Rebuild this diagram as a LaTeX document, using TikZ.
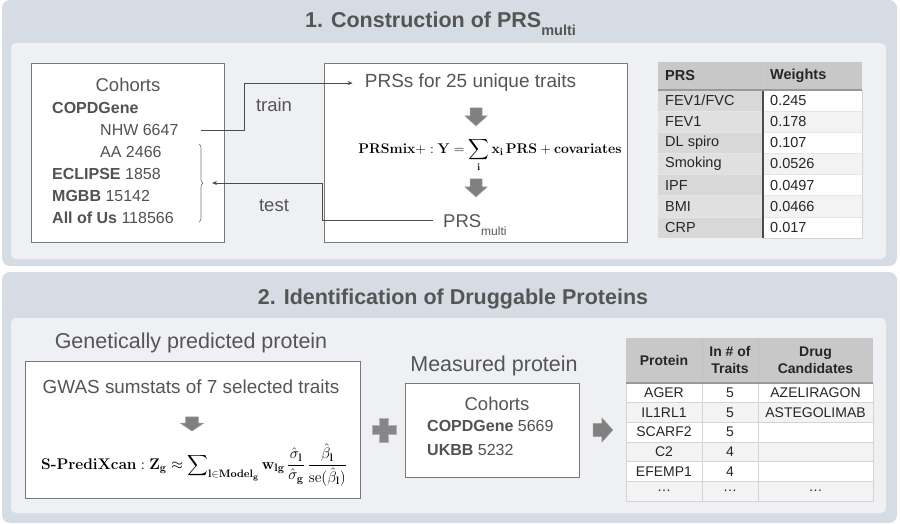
\RequirePackage{fix-cm}
\documentclass[tikz,border=0pt]{standalone}
\usepackage[no-math]{fontspec}
\setmainfont{Liberation Sans}
\usepackage{amsmath}
\usetikzlibrary{arrows.meta, calc, decorations.pathreplacing}

\definecolor{panelout}{RGB}{214,220,228}
\definecolor{panelin}{RGB}{239,240,244}
\definecolor{txtgray}{RGB}{85,85,85}
\definecolor{headgray}{RGB}{200,200,200}
\definecolor{colgray}{RGB}{216,216,216}
\definecolor{colgraylt}{RGB}{224,224,224}
\definecolor{rowgray}{RGB}{243,243,243}
\definecolor{gridgray}{RGB}{212,212,212}
\definecolor{arrgray}{RGB}{128,128,128}
\definecolor{linegray}{RGB}{120,120,120}

\newcommand\fs[1]{\fontsize{#1}{\fpeval{1.2*#1}}\selectfont}

\begin{document}
\begin{tikzpicture}[x=1pt, y=-1pt,
  box/.style={draw=linegray, fill=white, line width=0.8pt},
  conn/.style={draw=black!70, line width=0.8pt},
  tip/.style={-{Stealth[length=5pt, width=4pt]}},
  lbl/.style={inner sep=0pt, text=txtgray},
  cell/.style={inner sep=0pt, font=\fs{14.5}, text=black!85},
  hcell/.style={cell, font=\bfseries\fs{14.5}, align=center},
  blockdown/.pic={\draw[arrgray!75, fill=arrgray, line width=0.5pt]
    (-6,-9) -- (6,-9) -- (6,-1) -- (11,-1) -- (0,9) -- (-11,-1) -- (-6,-1) -- cycle;},
  plussign/.pic={\draw[arrgray!60, fill=arrgray!95, line width=0.6pt]
    (-4.5,-12) -- (4.5,-12) -- (4.5,-4.5) -- (12,-4.5) -- (12,4.5) -- (4.5,4.5) -- (4.5,12)
    -- (-4.5,12) -- (-4.5,4.5) -- (-12,4.5) -- (-12,-4.5) -- (-4.5,-4.5) -- cycle;}]
  \useasboundingbox (0,0) rectangle (900,524);

  % panels
  \fill[panelout, rounded corners=8pt] (2,0) rectangle (897,266);
  \fill[panelin, rounded corners=5pt] (11,43) rectangle (886,259);
  \fill[panelout, rounded corners=8pt] (2,272) rectangle (897,523);
  \fill[panelin, rounded corners=5pt] (11,318) rectangle (886,513);
  \node[lbl, anchor=base west, font=\bfseries\fs{21.5}] (title1) at (305,27.5)
    {1. Construction of PRS\raisebox{-8pt}{\fs{14.5}multi}};
  \node[lbl, anchor=base, font=\bfseries\fs{21.5}] (title2) at (453,304)
    {2. Identification of Druggable Proteins};

  % 1. cohorts
  \draw[box] (31,63) rectangle (224,242);
  \node[lbl, anchor=base, font=\fs{18.5}] (cohorts) at (128,92) {Cohorts};
  \begin{scope}[every node/.style={lbl, anchor=base west, font=\fs{16}, text=black!68}]
    \node (copd) at (52,114) {\textbf{COPDGene}};
    \node (nhw) at (100,136) {NHW 6647};
    \node (aa) at (100,157.5) {AA 2466};
    \node (eclipse) at (52,179) {\textbf{ECLIPSE} 1858};
    \node (mgbb) at (52,201) {\textbf{MGBB} 15142};
    \node (aou) at (52,223) {\textbf{All of Us} 118566};
  \end{scope}
  \draw[linegray, line width=0.7pt, decorate, decoration={brace, amplitude=4pt}]
    (199,144) -- (199,222);
  \coordinate (bracetip) at (205,183);

  % 1. PRSmix+ model
  \draw[box] (324,63) rectangle (627,242);
  \node[lbl, anchor=base, font=\fs{19}] (traits) at (470.5,88) {PRSs for 25 unique traits};
  \pic at (476,117) {blockdown};
  \node[lbl, text=black, font=\fs{14}] (prsmix) at (490,155)
    {$\displaystyle \mathbf{PRSmix}{+}:\mathbf{Y}=\sum_{\mathbf{i}}\mathbf{x}_{\mathbf{i}}\,\mathbf{PRS}+\mathbf{covariates}$};
  \pic at (476,188) {blockdown};
  \node[lbl, anchor=base west, font=\fs{18.5}] (multi) at (443,227)
    {PRS\raisebox{-8pt}[0pt][0pt]{\fs{12}multi}};

  % train / test
  \draw[conn, tip, shorten <=22pt, shorten >=12pt] (nhw.east) -- ++(66,0) |- (traits.west);
  \node[lbl, anchor=base, font=\fs{18.5}] (train) at (274,111.5) {train};
  \draw[conn, tip, shorten <=10pt, shorten >=7pt] (multi.west) -| ($(bracetip)+(117,0)$) -- (bracetip);
  \node[lbl, anchor=base, font=\fs{18.5}] (test) at (274,211.5) {test};

  % 1. weights table
  \fill[headgray] (658,62) rectangle (862,90);
  \foreach [count=\i] \trait/\wt in {{FEV1/FVC}/0.245, FEV1/0.178, {DL spiro}/0.107,
      Smoking/0.0526, IPF/0.0497, BMI/0.0466, CRP/0.017} {
    \pgfmathsetmacro\yt{90+(\i-1)*21.14}
    \pgfmathsetmacro\yc{\yt+10.57}
    \ifodd\i \def\lc{colgray}\def\rc{white}\else \def\lc{colgraylt}\def\rc{rowgray}\fi
    \fill[\lc] (658,\yt) rectangle (763,\yt+21.14);
    \fill[\rc] (763,\yt) rectangle (862,\yt+21.14);
    \draw[gridgray!60, line width=0.5pt] (658,\yt) -- (862,\yt);
    \node[cell, anchor=west] (trait\i) at (665,\yc) {\trait};
    \node[cell, anchor=west] (wt\i) at (770,\yc) {\wt};
  }
  \node[hcell, anchor=west] (hprs) at (665,76) {PRS};
  \node[hcell, anchor=west] (hwt) at (770,76) {Weights};
  \draw[white!80!black, line width=0.6pt] (763,62) -- (763,90);
  \draw[black!70, line width=1.2pt] (763,90) -- (763,238);
  \draw[black!40, line width=1.5pt] (658,90) -- (862,90);
  \draw[gridgray, line width=0.5pt] (862,90) -- (862,238) -- (763,238);

  % 2. genetically predicted protein
  \node[lbl, anchor=base, font=\fs{21.5}] (genet) at (191,348) {Genetically predicted protein};
  \draw[box] (25,361) rectangle (360,498);
  \node[lbl, anchor=base, font=\fs{18.9}] (gwas) at (191,393) {GWAS sumstats of 7 selected traits};
  \pic[xscale=1.05, yscale=0.78] at (192,424) {blockdown};
  \node[lbl, text=black, font=\fs{15.4}] (spx) at (194,465)
    {$\displaystyle \mathbf{S\mathchar"702D PrediXcan}:\mathbf{Z}_{\mathbf{g}}\approx\sum\nolimits_{\mathbf{l}\in\mathbf{Model}_{\mathbf{g}}}\mathbf{w}_{\mathbf{lg}}\,\frac{\hat{\sigma}_{\mathbf{l}}}{\hat{\sigma}_{\mathbf{g}}}\,\frac{\hat{\beta}_{\mathbf{l}}}{\mathrm{se}(\hat{\beta}_{\mathbf{l}})}$};
  \pic at (384,430) {plussign};

  % 2. measured protein
  \node[lbl, anchor=base, font=\fs{21.5}] (meas) at (494,371) {Measured protein};
  \draw[box] (405,383) rectangle (579,477);
  \node[lbl, anchor=base, font=\fs{18.5}] (cohorts2) at (497,410) {Cohorts};
  \node[lbl, anchor=base west, font=\fs{16}, text=black!68] (copd2) at (427,431.5) {\textbf{COPDGene} 5669};
  \node[lbl, anchor=base west, font=\fs{16}, text=black!68] (ukbb) at (427,455) {\textbf{UKBB} 5232};
  \pic[rotate=90, scale=1.1] at (603,430) {blockdown};

  % 2. druggable proteins table
  \fill[headgray] (626,338) rectangle (873,383);
  \foreach [count=\i] \prot/\ntr/\drug in {AGER/5/AZELIRAGON, IL1RL1/5/ASTEGOLIMAB,
      SCARF2/5/{}, C2/4/{}, EFEMP1/4/{}, \dots/\dots/\dots} {
    \pgfmathsetmacro\yt{383+(\i-1)*19.67}
    \pgfmathsetmacro\yc{\yt+9.83}
    \ifodd\i \def\rc{white}\else \def\rc{rowgray}\fi
    \fill[\rc] (626,\yt) rectangle (873,\yt+19.67);
    \draw[gridgray, line width=0.5pt] (626,\yt) -- (873,\yt);
    \node[cell, font=\fs{14}] (prot\i) at (664,\yc) {\prot};
    \node[cell, font=\fs{14}] (ntr\i) at (730,\yc) {\ntr};
    \node[cell, font=\fs{14}] (drug\i) at (815.5,\yc) {\drug};
  }
  \node[hcell, font=\bfseries\fs{14}] (hprot) at (664,360) {Protein};
  \node[hcell, font=\bfseries\fs{14}] (hntr) at (730,360) {In \# of\\Traits};
  \node[hcell, font=\bfseries\fs{14}] (hdrug) at (815.5,360) {Drug\\Candidates};
  \draw[white!75!black, line width=0.5pt] (702,338) -- (702,383) (758,338) -- (758,383);
  \draw[gridgray, line width=0.5pt] (702,383) -- (702,501) (758,383) -- (758,501)
    (626,383) rectangle (873,501);
  \draw[black!40, line width=1.5pt] (626,383) -- (873,383);
\end{tikzpicture}
\end{document}
